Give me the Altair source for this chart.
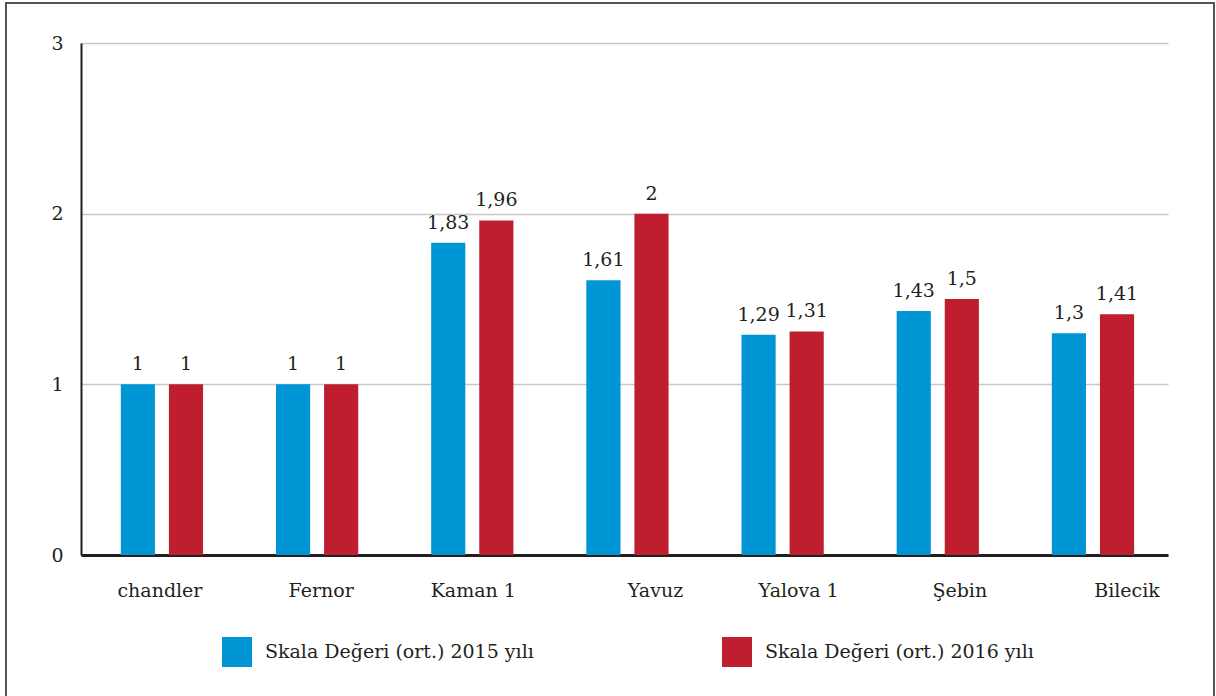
import altair as alt
import pandas as pd

categories = ["chandler", "Fernor", "Kaman 1", "Yavuz", "Yalova 1", "Şebin", "Bilecik"]
series = ["Skala Değeri (ort.) 2015 yılı", "Skala Değeri (ort.) 2016 yılı"]
values_2015 = [1, 1, 1.83, 1.61, 1.29, 1.43, 1.3]
values_2016 = [1, 1, 1.96, 2, 1.31, 1.5, 1.41]
colors = ["#0096d6", "#be1e2d"]

rows = []
for c, a, b in zip(categories, values_2015, values_2016):
    rows.append({"kategori": c, "seri": series[0], "deger": a})
    rows.append({"kategori": c, "seri": series[1], "deger": b})
df = pd.DataFrame(rows)

FONT = "DejaVu Serif"
FS = 19
TXT = "#231f20"

label_offset = {
    "condition": [
        {"test": "datum.value == 'chandler'", "value": -2},
        {"test": "datum.value == 'Fernor'", "value": 4},
        {"test": "datum.value == 'Kaman 1'", "value": 1},
        {"test": "datum.value == 'Yavuz'", "value": 28},
        {"test": "datum.value == 'Yalova 1'", "value": 16},
        {"test": "datum.value == 'Şebin'", "value": 22},
        {"test": "datum.value == 'Bilecik'", "value": 34},
    ],
    "value": 0,
}

xscale = alt.Scale(paddingInner=0.47, paddingOuter=0.2376, align=0.54)
x = alt.X(
    "kategori:N",
    sort=categories,
    title=None,
    scale=xscale,
    axis=alt.Axis(
        labelAngle=0,
        labelFont=FONT,
        labelFontSize=FS,
        labelColor=TXT,
        labelPadding=26,
        ticks=False,
        domainColor="#231f20",
        domainWidth=3,
        labelOffset=label_offset,
    ),
)
xo = alt.XOffset("seri:N", sort=series, scale=alt.Scale(paddingInner=0.29))
y = alt.Y(
    "deger:Q",
    title=None,
    scale=alt.Scale(domain=[0, 3]),
    axis=alt.Axis(
        values=[0, 1, 2, 3],
        format="d",
        labelFont=FONT,
        labelFontSize=FS,
        labelColor=TXT,
        labelPadding=18,
        ticks=False,
        domainColor="#231f20",
        domainWidth=2,
        gridColor="#c8c8c8",
        gridWidth=1.5,
    ),
)

bars = alt.Chart(df).mark_bar().encode(
    x=x,
    xOffset=xo,
    y=y,
    color=alt.Color(
        "seri:N",
        sort=series,
        scale=alt.Scale(domain=series, range=colors),
        legend=alt.Legend(
            title=None,
            orient="none",
            legendX=141,
            legendY=594,
            direction="horizontal",
            symbolType="square",
            symbolSize=900,
            symbolStrokeWidth=0,
            labelFont=FONT,
            labelFontSize=FS,
            labelColor=TXT,
            labelOffset=13,
            columnPadding=188,
            labelLimit=400,
        ),
    ),
)

labels = alt.Chart(df).transform_calculate(
    etiket="replace(format(datum.deger, ''), '.', ',')"
).mark_text(
    font=FONT, fontSize=FS, color=TXT, baseline="bottom", dy=-10
).encode(
    x=alt.X("kategori:N", sort=categories),
    xOffset=alt.XOffset("seri:N", sort=series),
    y="deger:Q",
    text="etiket:N",
)

frame = alt.Chart(df).mark_rect(
    fill=None, stroke="#555555", strokeWidth=2
).encode(
    x=alt.value(-75), x2=alt.value(1133), y=alt.value(-40), y2=alt.value(680)
)

chart = (
    alt.layer(bars, labels, frame)
    .properties(
        width=1087,
        height=512,
        autosize=alt.AutoSizeParams(type="none"),
        padding={"left": 81, "top": 43, "right": 48, "bottom": 141},
        background="white",
    )
    .configure_view(stroke=None)
)

chart.save("out.html", embed_options={"renderer": "svg", "actions": False})
